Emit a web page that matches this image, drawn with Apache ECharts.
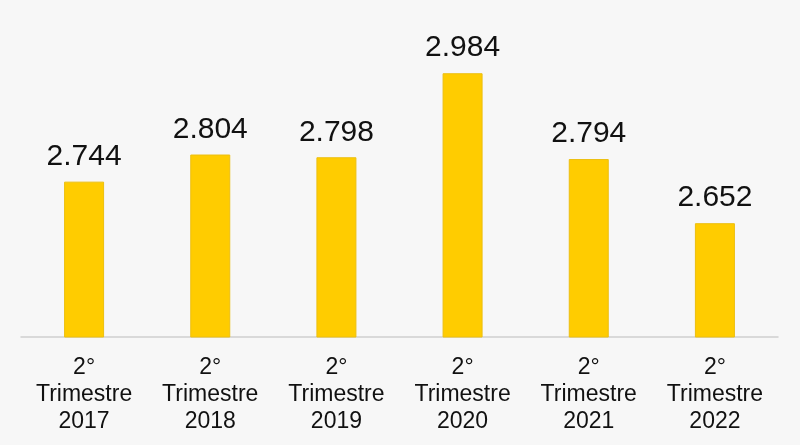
<!DOCTYPE html>
<html>
<head>
<meta charset="utf-8">
<script src="https://cdn.jsdelivr.net/npm/echarts@6/dist/echarts.min.js"></script>
<style>
  html, body { margin: 0; padding: 0; background: #f7f7f7; }
  #main { width: 800px; height: 445px; }
</style>
</head>
<body>
<div id="main"></div>
<script>
const years = ['2017', '2018', '2019', '2020', '2021', '2022'];
const periodo = '2°\nTrimestre';
const values = [2.744, 2.804, 2.798, 2.984, 2.794, 2.652];

const categories = years.map(y => periodo + '\n' + y);

let myChart = echarts.init(document.getElementById('main'));
myChart.setOption({
  backgroundColor: '#f7f7f7',
  animation: false,
  grid: {
    left: 21,
    right: 22,
    top: 66,
    bottom: 108
  },
  xAxis: {
    type: 'category',
    data: categories,
    axisTick: { show: false },
    axisLine: { lineStyle: { color: '#d0d0d0', width: 1.5 } },
    axisLabel: {
      color: '#111',
      fontFamily: 'Liberation Sans, Arial, sans-serif',
      fontSize: 23,
      lineHeight: 27,
      margin: 17,
      interval: 0
    }
  },
  yAxis: {
    type: 'value',
    min: 2.4,
    max: 3.0,
    show: false,
    splitLine: { show: false }
  },
  series: [
    {
      type: 'bar',
      data: values,
      barWidth: 40,
      itemStyle: {
        color: '#ffcc00',
        borderColor: '#ecbf10',
        borderWidth: 1
      },
      label: {
        show: true,
        position: 'top',
        distance: 10,
        color: '#111',
        fontFamily: 'Liberation Sans, Arial, sans-serif',
        fontSize: 30,
        formatter: p => p.value.toFixed(3)
      }
    }
  ]
});
</script>
</body>
</html>
